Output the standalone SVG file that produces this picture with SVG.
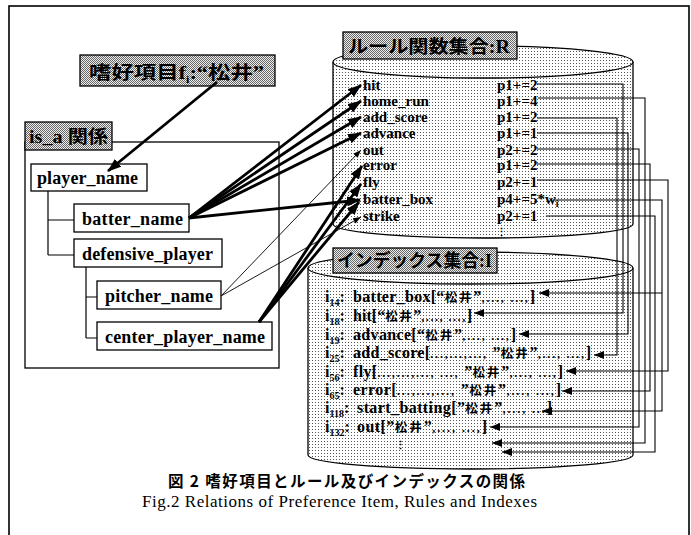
<svg xmlns="http://www.w3.org/2000/svg" width="691" height="535" viewBox="0 0 691 535">
<defs>
<pattern id="dots" width="3" height="3" patternUnits="userSpaceOnUse"><rect width="3" height="3" fill="#fff"/><rect width="1" height="1" fill="#555"/></pattern>
<pattern id="dense" width="2" height="2" patternUnits="userSpaceOnUse"><rect width="2" height="2" fill="#eee"/><rect width="1" height="1" fill="#666"/><rect x="1" y="1" width="1" height="1" fill="#666"/></pattern>
<marker id="big" markerUnits="userSpaceOnUse" markerWidth="14" markerHeight="10" refX="13" refY="5" orient="auto"><path d="M0,0 L14,5 L0,10 z" fill="#000"/></marker>
<marker id="sm" markerUnits="userSpaceOnUse" markerWidth="8" markerHeight="6" refX="8" refY="3" orient="auto"><path d="M0,0 L8,3 L0,6 z" fill="#000"/></marker>
<marker id="rt" markerUnits="userSpaceOnUse" markerWidth="10" markerHeight="8" refX="10" refY="4" orient="auto"><path d="M0,0 L10,4 L0,8 z" fill="#000"/></marker>
<style>
.box{fill:#fff;stroke:#000;stroke-width:1.3}
.tab{fill:url(#dense);stroke:#000;stroke-width:1.3}
.cyl{fill:url(#dots);stroke:#000;stroke-width:1.3}
.n{font-family:"Liberation Serif",serif;font-weight:bold;font-size:18px;fill:#000}
.r{font-family:"Liberation Serif",serif;font-weight:bold;font-size:15px;fill:#000}
.ix{font-family:"Liberation Serif",serif;font-weight:bold;font-size:16px;fill:#000}
.sub{font-size:10px}
.s{font-size:12px;letter-spacing:1.5px}
.j{font-family:"Noto Sans CJK JP",sans-serif;font-weight:bold}
.ix .j{font-size:12.5px;letter-spacing:1.5px}
.tree{fill:none;stroke:#000;stroke-width:1.2}
.thick{fill:none;stroke:#000;stroke-width:2.8;marker-end:url(#big)}
.thin{fill:none;stroke:#000;stroke-width:0.9;marker-end:url(#sm)}
.route{fill:none;stroke:#000;stroke-width:1.1;marker-end:url(#rt)}
</style>
</defs>
<rect x="9" y="6" width="680" height="540" fill="#fff" stroke="#000" stroke-width="1.6"/>

<g id="title">
<rect x="80" y="55" width="195" height="31" class="tab"/>
<text x="89" y="79" class="n" font-size="22" textLength="175" lengthAdjust="spacingAndGlyphs"><tspan class="j">嗜好項目</tspan>f<tspan class="sub" dy="4">i</tspan><tspan dy="-4">:“</tspan><tspan class="j">松井</tspan>”</text>
</g>

<g id="is_a">
<rect x="25" y="142" width="254" height="226" class="box"/>
<rect x="25" y="122" width="87" height="28" class="tab"/>
<text x="29" y="143" class="n" font-size="16" textLength="79" lengthAdjust="spacingAndGlyphs">is_a <tspan class="j">関係</tspan></text>
</g>

<g id="tree" class="tree">
<path d="M48,191 V255 M48,220 H74 M48,255 H74"/>
<path d="M86,267 V338 M86,297 H97 M86,338 H97"/>
</g>

<g id="player_name"><rect x="31" y="164" width="116" height="27" class="box"/><text x="37" y="184" class="n" textLength="101">player_name</text></g>
<g id="batter_name"><rect x="74" y="204" width="115" height="28" class="box"/><text x="82" y="225" class="n" textLength="101">batter_name</text></g>
<g id="defensive_player"><rect x="74" y="239" width="148" height="28" class="box"/><text x="82" y="260" class="n" textLength="131">defensive_player</text></g>
<g id="pitcher_name"><rect x="97" y="281" width="124" height="28" class="box"/><text x="105" y="302" class="n" textLength="108">pitcher_name</text></g>
<g id="center_player_name"><rect x="97" y="322" width="175" height="28" class="box"/><text x="105" y="343" class="n" textLength="160">center_player_name</text></g>

<g id="rule_set">
<path d="M333,62 V224 A150,14 0 0 0 633,224 V62" class="cyl"/>
<ellipse cx="483" cy="62" rx="150" ry="16" class="cyl"/>
<rect x="343" y="32" width="174" height="27" class="tab"/>
<text x="348" y="53" class="n" font-size="19" textLength="162" lengthAdjust="spacingAndGlyphs"><tspan class="j">ルール関数集合</tspan>:R</text>
<g class="r">
<text x="363" y="90">hit</text>
<text x="363" y="106">home_run</text>
<text x="363" y="122">add_score</text>
<text x="363" y="138">advance</text>
<text x="363" y="155">out</text>
<text x="363" y="170">error</text>
<text x="363" y="187">fly</text>
<text x="363" y="204">batter_box</text>
<text x="363" y="221">strike</text>
<text x="497" y="90">p1+=2</text>
<text x="497" y="106">p1+=4</text>
<text x="497" y="122">p1+=2</text>
<text x="497" y="138">p1+=1</text>
<text x="497" y="155">p2+=2</text>
<text x="497" y="170">p1+=2</text>
<text x="497" y="187">p2+=1</text>
<text x="497" y="204">p4+=5*w<tspan class="sub" dy="3">i</tspan></text>
<text x="497" y="221">p2+=1</text>
<text x="496" y="236" font-size="11">⋮</text>
</g>
</g>

<g id="index_set">
<path d="M308,268 V455 A162.5,14 0 0 0 633,455 V268" class="cyl"/>
<ellipse cx="470.5" cy="268" rx="162.5" ry="16" class="cyl"/>
<rect x="333" y="248" width="164" height="25" class="tab"/>
<text x="337" y="267" class="n" font-size="17" textLength="155" lengthAdjust="spacingAndGlyphs"><tspan class="j">インデックス集合</tspan>:I</text>
<g class="ix">
<text x="325" y="302">i<tspan class="sub" dy="4">14</tspan><tspan dy="-4">:</tspan></text>
<text x="325" y="321">i<tspan class="sub" dy="4">18</tspan><tspan dy="-4">:</tspan></text>
<text x="325" y="340">i<tspan class="sub" dy="4">19</tspan><tspan dy="-4">:</tspan></text>
<text x="325" y="358">i<tspan class="sub" dy="4">25</tspan><tspan dy="-4">:</tspan></text>
<text x="325" y="377">i<tspan class="sub" dy="4">56</tspan><tspan dy="-4">:</tspan></text>
<text x="325" y="395">i<tspan class="sub" dy="4">65</tspan><tspan dy="-4">:</tspan></text>
<text x="325" y="413">i<tspan class="sub" dy="4">118</tspan><tspan dy="-4">:</tspan></text>
<text x="325" y="432">i<tspan class="sub" dy="4">132</tspan><tspan dy="-4">:</tspan></text>
<text x="353" y="302" textLength="182">batter_box[“<tspan class="j">松井</tspan>”<tspan class="s">,..., ...,</tspan>]</text>
<text x="353" y="321" textLength="119">hit[“<tspan class="j">松井</tspan>”<tspan class="s">,..., ...,</tspan>]</text>
<text x="353" y="340" textLength="163">advance[“<tspan class="j">松井</tspan>”<tspan class="s">,..., ...,</tspan>]</text>
<text x="353" y="358" textLength="238">add_score[<tspan class="s">...,...,..., </tspan>”<tspan class="j">松井</tspan>”<tspan class="s">,..., ...,</tspan>]</text>
<text x="353" y="377" textLength="210">fly[<tspan class="s">...,...,..., ..., </tspan>”<tspan class="j">松井</tspan>”<tspan class="s">,..., ...,</tspan>]</text>
<text x="353" y="395" textLength="208">error[<tspan class="s">...,...,..., </tspan>”<tspan class="j">松井</tspan>”<tspan class="s">,..., ...,</tspan>]</text>
<text x="357" y="413" textLength="195">start_batting[”<tspan class="j">松井</tspan>”<tspan class="s">,..., ...</tspan>]</text>
<text x="357" y="432" textLength="130">out[”<tspan class="j">松井</tspan>”<tspan class="s">,..., ...,</tspan>]</text>
<text x="395" y="449" font-size="11">⋮</text>
</g>
</g>

<g id="connectors">
<path d="M217,82 L108,171" class="thick"/>
<path d="M189,218 L361,85" class="thick"/>
<path d="M189,218 L361,101" class="thick"/>
<path d="M189,218 L361,117" class="thick"/>
<path d="M189,218 L361,133" class="thick"/>
<path d="M189,218 L360,200" class="thick"/>
<path d="M259,322 L362,166" class="thick"/>
<path d="M259,322 L361,184" class="thick"/>
<path d="M259,322 L359,202" class="thick"/>
<path d="M221,296 L361,150" class="thin"/>
<path d="M221,296 L361,217" class="thin"/>
<path d="M537,84 H623 V313 H474" class="route"/>
<path d="M538,98 H645 V443 H492" class="route"/>
<path d="M537,118 H617 V355 H594" class="route"/>
<path d="M537,133 H628 V334 H519" class="route"/>
<path d="M537,149 H639 V427 H490" class="route"/>
<path d="M537,164 H650 V391 H562" class="route"/>
<path d="M537,180 H668 V371 H566" class="route"/>
<path d="M553,200 H662 V411 H542" class="route"/>
<path d="M662,293 H539" class="route"/>
<path d="M546,216 H655 V452 H502" class="route"/>
</g>

<g id="caption">
<text x="168" y="487" class="j" font-size="15.5" textLength="357">図 2 嗜好項目とルール及びインデックスの関係</text>
<text x="142" y="507" font-family="Liberation Serif, serif" font-size="17" textLength="395">Fig.2 Relations of Preference Item, Rules and Indexes</text>
</g>
</svg>
